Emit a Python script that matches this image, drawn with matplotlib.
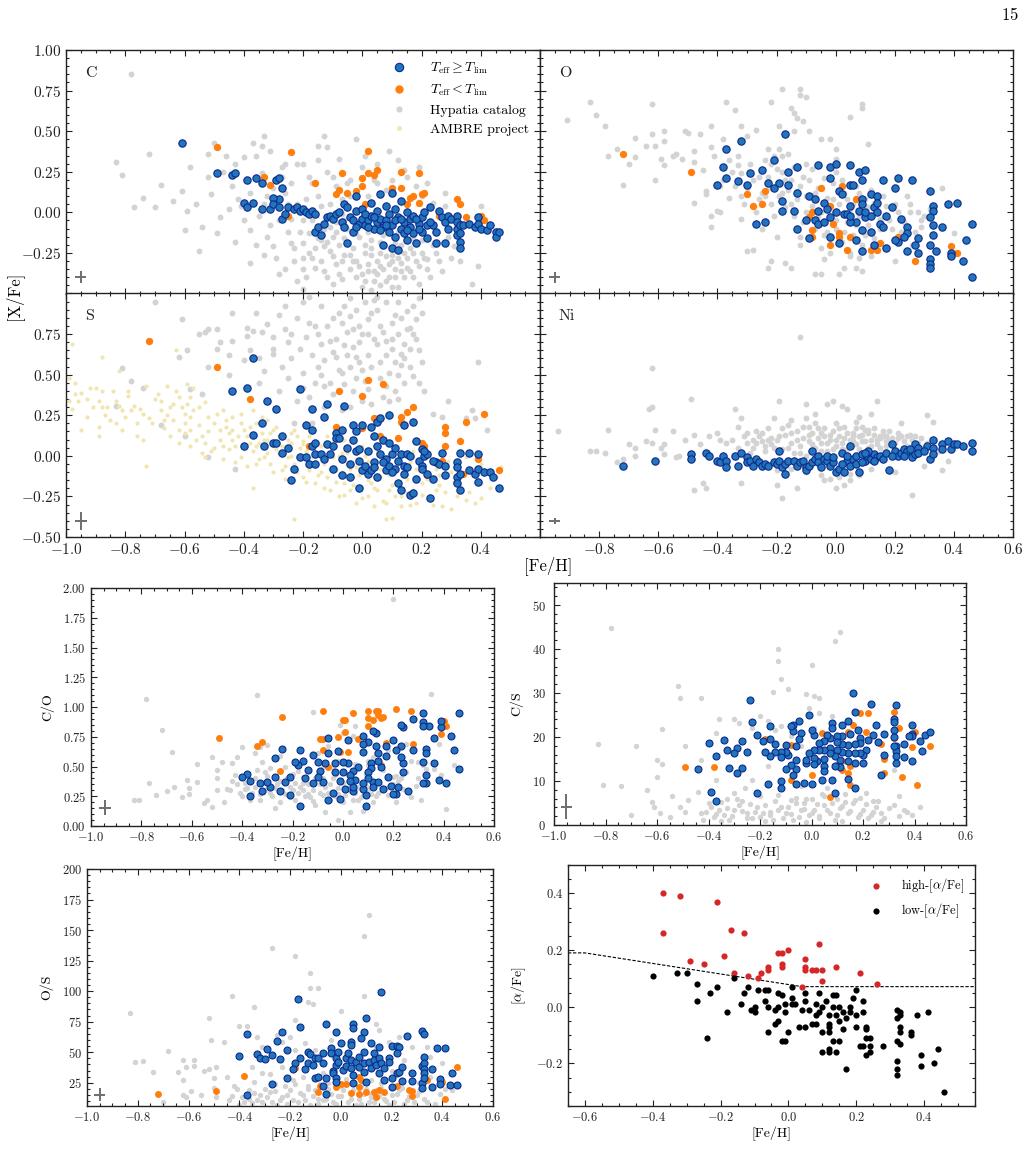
import matplotlib
matplotlib.use("Agg")
import matplotlib.pyplot as plt
from matplotlib.lines import Line2D
from matplotlib.ticker import FuncFormatter, MultipleLocator, FixedLocator

plt.rcParams["font.family"] = "serif"
plt.rcParams["font.serif"] = ["cmr10", "DejaVu Serif"]
plt.rcParams["mathtext.fontset"] = "cm"
plt.rcParams["axes.unicode_minus"] = True

GREY = "#d3d3d3"
AMBRE_C = "#efe6b2"
ORANGE = "#ff7f0e"
BLUE_FACE = "#2274bb"
BLUE_EDGE = "#0b2a8c"
CROSS = "#6e6e6e"

# ---------------- [C/Fe] ----------------
C_BLUE = [(-0.61,0.43),(-0.49,0.24),(-0.44,0.23),(-0.43,0.24),(-0.39,0.20),(-0.36,0.21),(-0.34,0.18),
          (-0.29,0.20),(-0.28,0.21),(-0.27,0.15),(-0.28,0.08),(-0.40,0.06),(-0.39,0.03),(-0.37,0.06),
          (-0.34,0.02),(-0.31,0.02),(-0.30,0.09),(-0.30,0.05),(-0.28,0.03),(-0.27,-0.04),(-0.26,-0.01),
          (-0.25,0.03),(-0.23,0.02),(-0.22,0.03),(-0.21,0.01),(-0.20,0.02),(-0.19,0.00),(-0.18,-0.01),
          (-0.17,0.01),(-0.16,-0.01),(-0.16,-0.12),(-0.15,-0.09),(-0.14,-0.14),(-0.13,-0.07),(-0.12,-0.03),
          (-0.11,-0.02),(-0.10,-0.04),(-0.09,-0.01),(-0.08,0.00),(-0.07,-0.06),(-0.06,-0.09),(-0.06,0.05),
          (-0.05,0.03),(-0.05,-0.19),(-0.04,-0.03),(-0.03,-0.05),(-0.03,-0.12),(-0.02,0.10),(-0.02,0.01),
          (-0.01,-0.07),(0.00,-0.04),(0.00,0.02),(0.01,-0.08),(0.02,-0.05),(0.03,-0.02),(0.03,0.06),
          (0.04,-0.10),(0.05,-0.06),(0.05,0.01),(0.06,-0.04),(0.06,0.11),(0.07,-0.09),(0.07,-0.20),
          (0.08,-0.05),(0.08,0.04),(0.09,-0.12),(0.09,-0.01),(0.10,-0.08),(0.10,0.12),(0.10,-0.22),
          (0.11,-0.15),(0.11,0.02),(0.12,-0.03),(0.12,-0.23),(0.13,-0.10),(0.13,0.07),(0.14,-0.06),
          (0.14,-0.13),(0.15,0.00),(0.15,-0.17),(0.16,-0.04),(0.16,-0.09),(0.17,-0.02),(0.17,-0.13),
          (0.18,-0.19),(0.19,-0.07),(0.20,-0.12),(0.20,-0.03),(0.21,0.00),(0.22,-0.08),(0.22,-0.16),
          (0.23,0.03),(0.24,-0.08),(0.25,-0.12),(0.25,-0.19),(0.26,0.01),(0.27,-0.03),(0.28,-0.06),
          (0.28,-0.19),(0.29,-0.02),(0.29,-0.10),(0.30,-0.04),(0.32,-0.02),(0.32,-0.06),(0.32,-0.10),
          (0.32,-0.14),(0.33,-0.18),(0.33,-0.22),(0.33,-0.08),(0.33,-0.13),(0.34,-0.08),(0.36,-0.07),
          (0.38,-0.09),(0.39,-0.03),(0.39,-0.07),(0.40,-0.10),(0.42,-0.11),(0.43,-0.08),(0.45,-0.12),
          (0.45,-0.15),(0.46,-0.12),(0.02,-0.09),(0.04,-0.03),(0.06,-0.11),(0.08,-0.08),(0.11,-0.05),
          (0.13,-0.04),(0.15,-0.11),(0.18,-0.04),(0.19,-0.10),(0.23,-0.06),(-0.02,-0.09),(0.01,-0.01)]
C_ORANGE = [(-0.49,0.40),(-0.33,0.22),(-0.31,0.17),(-0.24,0.37),(-0.16,0.18),(-0.09,0.11),(-0.08,0.14),
            (-0.07,0.24),(-0.05,0.12),(-0.02,0.13),(0.00,0.21),(0.01,0.05),(0.02,0.38),(0.02,0.24),
            (0.04,0.23),(0.05,0.26),(0.00,0.16),(0.10,0.15),(0.13,0.25),(0.13,0.15),(0.15,0.05),
            (0.16,0.09),(0.17,0.10),(0.19,0.24),(0.19,0.06),(0.20,0.11),(0.21,0.12),(0.26,-0.02),
            (0.28,-0.05),(0.32,0.08),(0.33,0.05),(0.35,-0.03),(0.40,-0.02),(0.41,-0.05),(-0.25,-0.02)]
C_HYP = [(-0.78,0.85),(-0.83,0.31),(-0.81,0.23),(-0.72,0.36),(-0.68,0.17),(-0.74,0.09),(-0.77,0.03),
         (-0.70,0.03),(-0.64,0.07),(-0.61,0.13),(-0.58,0.28),(-0.59,0.01),(-0.60,-0.11),(-0.55,-0.24),
         (-0.54,-0.09),(-0.52,0.36),(-0.50,0.43),(-0.52,0.22),(-0.51,0.11),(-0.49,-0.13),(-0.46,0.35),
         (-0.44,0.16),(-0.43,-0.18),(-0.41,0.04),(-0.40,0.34),(-0.38,-0.11),(-0.37,0.43),(-0.38,-0.31),
         (-0.34,0.41),(-0.33,0.47),(-0.34,0.24),(-0.32,0.10),(-0.31,-0.08),(-0.30,-0.21),(-0.28,-0.38),
         (-0.27,0.28),(-0.26,0.12),(-0.24,-0.19),(-0.23,-0.30),(-0.22,0.30),(-0.20,-0.05),(-0.20,-0.19),
         (-0.20,-0.47),(-0.18,-0.13),(-0.17,0.18),(-0.16,-0.34),(-0.15,0.41),(-0.14,0.04),(-0.13,0.47),
         (-0.13,-0.21),(-0.12,0.25),(-0.11,-0.09),(-0.10,-0.27),(-0.09,0.16),(-0.08,-0.38),(-0.07,-0.01),
         (-0.07,-0.41),(-0.05,-0.19),(-0.04,0.20),(-0.03,-0.30),(-0.02,0.45),(-0.02,-0.13),(0.00,-0.46),
         (0.01,-0.25),(0.01,0.35),(0.02,0.10),(0.03,-0.17),(0.04,-0.36),(0.05,0.18),(0.06,-0.25),
         (0.08,-0.09),(0.09,0.38),(0.10,-0.46),(0.11,-0.19),(0.13,-0.31),(0.14,-0.09),(0.16,-0.36),
         (0.17,-0.25),(0.19,0.28),(0.20,-0.17),(0.22,0.18),(0.22,-0.29),(0.24,-0.09),(0.28,0.04),
         (0.29,-0.15),(0.31,-0.21),(0.35,-0.50),(0.37,-0.44),(0.39,-0.33),(0.40,0.04),
         (-0.28,-0.05),(-0.25,-0.12),(-0.23,-0.22),(-0.22,0.05),(-0.20,-0.28),(-0.19,0.08),(-0.18,-0.25),
         (-0.17,-0.05),(-0.16,-0.22),(-0.15,0.10),(-0.14,-0.30),(-0.13,-0.10),(-0.12,-0.18),(-0.11,0.05),
         (-0.10,-0.15),(-0.09,-0.32),(-0.08,-0.20),(-0.07,0.08),(-0.06,-0.26),(-0.05,-0.10),(-0.04,-0.35),
         (-0.03,-0.22),(-0.02,-0.30),(-0.01,-0.15),(0.00,-0.38),(0.01,-0.20),(0.02,-0.32),(0.03,-0.26),
         (0.04,-0.42),(0.05,-0.30),(0.06,-0.18),(0.07,-0.35),(0.08,-0.27),(0.09,-0.40),(0.10,-0.30),
         (0.11,-0.35),(0.12,-0.28),(0.13,-0.20),(0.14,-0.40),(0.15,-0.28),(0.16,-0.22),(0.18,-0.30),
         (0.20,-0.25),(0.22,-0.35),(0.24,-0.20),(0.26,-0.30),(-0.35,-0.02),(-0.33,0.05),(-0.38,0.12),
         (-0.42,0.08),(-0.45,0.02),(-0.30,0.15),(-0.27,0.22),(-0.24,0.18),(-0.10,0.22),(-0.05,0.18),
         (0.00,0.28),(0.05,0.30),(0.10,0.20),(0.15,0.22),(0.20,0.10),(-0.20,0.30),(-0.15,0.32),
         (-0.08,0.33),(0.12,0.32),(0.06,-0.45),(-0.12,-0.40),(-0.20,-0.35),(-0.06,-0.05),(0.02,-0.12),
         (-0.14,-0.17),(0.07,-0.14),(0.12,-0.12),(-0.09,-0.12),(0.17,-0.16),(-0.25,0.05)]
C_HYP_EXTRA = [(-0.32,-0.15),(-0.29,-0.28),(-0.26,-0.35),(-0.24,-0.04),(-0.21,-0.12),(-0.19,-0.40),
               (-0.17,-0.28),(-0.15,-0.16),(-0.13,-0.36),(-0.11,-0.24),(-0.09,-0.06),(-0.07,-0.30),
               (-0.06,-0.16),(-0.04,-0.26),(-0.02,-0.40),(-0.01,-0.33),(0.01,-0.42),(0.02,-0.36),
               (0.03,-0.22),(0.05,-0.38),(0.06,-0.33),(0.08,-0.42),(0.09,-0.32),(0.10,-0.26),(0.11,-0.40),
               (0.13,-0.36),(0.14,-0.25),(0.15,-0.34),(0.17,-0.40),(0.19,-0.33),(0.21,-0.28),(0.23,-0.40),
               (0.25,-0.25),(0.27,-0.36),(0.30,-0.28),(0.33,-0.30),(-0.36,-0.20),(-0.40,-0.05),
               (-0.48,-0.03),(-0.56,0.05),(-0.47,0.25),(-0.43,0.30),(-0.36,0.35),(-0.31,0.38),
               (-0.12,0.40),(-0.04,0.10),(0.04,0.20),(0.08,0.14),(0.14,0.26),(0.18,0.16),(-0.18,0.22),
               (-0.26,0.30),(0.28,0.12),(0.24,0.06),(-0.22,-0.42),(-0.10,-0.44),(0.03,-0.48),
               (0.12,-0.46),(0.19,-0.44),(-0.33,-0.26)]

# ---------------- [O/Fe] ----------------
O_BLUE = [(-0.17,0.48),(-0.32,0.44),(-0.37,0.39),(-0.38,0.28),(-0.37,0.21),(-0.40,0.17),(-0.33,0.19),
          (-0.29,0.24),(-0.30,0.17),(-0.25,0.26),(-0.21,0.32),(-0.23,0.18),(-0.21,0.15),(-0.19,0.18),
          (-0.16,0.25),(-0.16,0.17),(-0.13,0.28),(-0.13,0.12),(-0.18,0.07),(-0.18,0.01),(-0.14,0.01),
          (-0.27,-0.07),(-0.24,-0.06),(-0.13,-0.10),(-0.10,-0.05),(-0.09,0.10),(-0.07,0.08),(-0.06,0.29),
          (-0.02,0.28),(0.00,0.30),(0.05,0.29),(0.08,0.25),(0.10,0.26),(0.09,0.20),(0.05,0.17),(0.06,0.17),
          (0.01,0.13),(-0.02,0.21),(-0.04,0.06),(-0.03,0.02),(-0.06,0.01),(-0.07,-0.05),(-0.02,-0.03),
          (0.00,0.00),(0.03,-0.01),(0.05,0.04),(0.02,0.11),(0.09,0.08),(0.09,0.05),(0.12,0.11),(0.14,0.10),
          (0.13,0.03),(0.14,0.06),(0.10,-0.03),(0.12,-0.02),(0.07,-0.06),(0.05,-0.06),(0.09,-0.11),
          (0.12,-0.12),(0.15,-0.07),(0.16,-0.09),(0.09,-0.24),(0.13,-0.20),(0.17,-0.22),(0.16,0.20),
          (0.21,0.21),(0.26,0.20),(0.20,0.15),(0.19,0.03),(0.22,-0.04),(0.24,-0.09),(0.24,-0.13),
          (0.23,-0.15),(0.21,-0.18),(0.20,-0.17),(0.24,-0.24),(0.27,-0.20),(0.28,-0.16),(0.28,-0.25),
          (0.32,0.13),(0.33,0.04),(0.33,0.01),(0.32,-0.03),(0.33,-0.08),(0.33,-0.14),(0.32,-0.20),
          (0.32,-0.29),(0.32,-0.32),(0.32,-0.34),(0.34,-0.24),(0.36,-0.09),(0.38,0.05),(0.41,0.06),
          (0.39,-0.25),(0.39,-0.27),(0.43,-0.30),(0.44,-0.17),(0.46,-0.07),(0.46,-0.40),(-0.02,-0.15),
          (0.01,-0.19),(0.07,-0.17),(-0.09,-0.16),(-0.06,-0.07),(-0.04,-0.06),(0.04,-0.01),(0.05,-0.02),
          (0.08,0.01),(0.10,0.00),(0.14,0.00),(0.17,-0.02)]
O_ORANGE = [(-0.72,0.36),(-0.49,0.25),(-0.30,0.11),(-0.28,0.04),(-0.25,0.05),(-0.24,0.13),(-0.05,0.15),
            (0.02,0.16),(0.07,0.08),(-0.08,0.00),(-0.09,-0.03),(-0.08,-0.11),(-0.08,-0.15),(-0.02,0.04),
            (-0.02,-0.20),(-0.01,-0.07),(0.01,-0.13),(0.01,-0.15),(0.04,-0.23),(0.05,-0.15),(0.09,-0.11),
            (0.12,-0.23),(0.14,-0.23),(0.15,-0.19),(0.21,-0.15),(0.27,-0.30),(0.39,-0.21),(0.41,-0.25)]
O_HYP = [(-0.91,0.57),(-0.83,0.68),(-0.81,0.60),(-0.78,0.53),(-0.77,0.35),(-0.74,0.39),(-0.72,0.17),
         (-0.70,0.30),(-0.68,0.46),(-0.68,0.34),(-0.64,0.41),(-0.62,0.67),(-0.62,0.48),(-0.61,0.41),
         (-0.59,0.33),(-0.58,0.50),(-0.58,0.44),(-0.58,0.29),(-0.61,0.20),(-0.55,0.35),(-0.54,0.36),
         (-0.52,0.33),(-0.51,0.50),(-0.50,0.49),(-0.48,0.38),(-0.48,0.31),(-0.48,0.06),(-0.46,0.48),
         (-0.45,0.26),(-0.44,0.11),(-0.44,0.13),(-0.42,0.53),(-0.42,0.40),(-0.41,0.35),(-0.42,-0.02),
         (-0.42,-0.09),(-0.40,0.01),(-0.39,0.00),(-0.39,0.16),(-0.37,0.68),(-0.34,0.63),(-0.38,0.45),
         (-0.36,0.32),(-0.33,0.29),(-0.32,0.24),(-0.34,0.16),(-0.36,0.09),(-0.32,0.10),(-0.32,-0.04),
         (-0.30,0.47),(-0.27,0.51),(-0.32,0.53),(-0.30,-0.24),(-0.28,-0.23),(-0.22,0.68),(-0.19,0.53),
         (-0.18,0.76),(-0.15,0.64),(-0.14,0.61),(-0.13,0.58),(-0.12,0.76),(-0.12,0.72),(-0.10,0.71),
         (-0.11,0.56),(-0.14,0.50),(-0.09,0.50),(-0.05,0.45),(-0.02,0.45),(0.00,0.39),(0.00,0.33),
         (0.05,0.59),(0.09,0.67),(0.09,0.64),(0.11,0.42),(-0.23,0.39),(-0.24,0.32),(-0.21,0.35),
         (-0.19,0.39),(-0.16,0.36),(-0.22,-0.30),(-0.23,-0.34),(-0.17,-0.31),(-0.15,-0.34),(-0.07,-0.38),
         (-0.05,-0.38),(-0.04,-0.29),(0.01,-0.38),(0.03,-0.34),(0.05,-0.27),(0.07,-0.34),(0.09,-0.36),
         (0.20,-0.30),(0.28,-0.25),(0.36,0.15),(0.40,-0.13),(0.28,0.00),(0.25,0.00),(0.29,-0.09),
         (-0.30,0.15),(-0.28,0.20),(-0.26,0.08),(-0.25,0.12),(-0.23,0.22),(-0.22,0.05),(-0.20,0.18),
         (-0.19,0.10),(-0.18,0.25),(-0.17,0.03),(-0.16,0.14),(-0.15,0.20),(-0.14,-0.02),(-0.13,0.08),
         (-0.12,0.16),(-0.11,-0.06),(-0.10,0.10),(-0.09,0.20),(-0.08,0.04),(-0.07,-0.10),(-0.06,0.15),
         (-0.05,0.00),(-0.04,-0.14),(-0.03,0.09),(-0.02,-0.04),(-0.01,0.18),(0.00,-0.10),(0.01,0.05),
         (0.02,-0.18),(0.03,0.12),(0.04,-0.06),(0.05,0.02),(0.06,-0.14),(0.07,0.16),(0.08,-0.02),
         (0.09,-0.20),(0.10,0.08),(0.11,-0.08),(0.12,0.14),(0.13,-0.16),(0.14,0.03),(0.15,-0.10),
         (0.16,0.10),(0.18,-0.05),(0.20,0.05),(0.22,-0.12),(0.24,0.10),(0.26,-0.20),(0.30,-0.02),
         (-0.22,0.30),(-0.18,0.35),(-0.10,0.30),(0.00,0.25),(-0.25,-0.10),(-0.20,-0.15),(-0.12,-0.20),
         (-0.05,-0.22),(0.05,-0.25),(0.12,-0.27)]
O_HYP_EXTRA = [(-0.38,0.20),(-0.35,0.25),(-0.33,0.35),(-0.31,0.05),(-0.29,0.30),(-0.27,0.00),(-0.26,0.22),
               (-0.24,0.10),(-0.22,0.15),(-0.21,-0.02),(-0.20,0.27),(-0.18,0.12),(-0.17,0.20),(-0.15,0.05),
               (-0.14,0.28),(-0.13,0.13),(-0.11,0.22),(-0.10,0.00),(-0.08,0.27),(-0.07,0.12),(-0.06,-0.02),
               (-0.04,0.21),(-0.03,-0.12),(-0.01,0.08),(0.00,-0.05),(0.02,0.20),(0.03,-0.12),(0.04,0.08),
               (0.06,0.05),(0.07,-0.08),(0.08,0.12),(0.10,-0.14),(0.11,0.03),(0.13,0.06),(0.15,-0.04),
               (0.17,0.04),(0.19,-0.10),(0.21,0.00),(0.23,-0.06),(0.25,0.05),(0.27,-0.12),(0.29,-0.05),
               (0.32,0.02),(-0.12,-0.15),(-0.02,-0.25),(0.08,-0.28)]

# ---------------- [S/Fe] ----------------
S_BLUE = [(-0.37,0.60),(-0.44,0.40),(-0.39,0.42),(-0.32,0.34),(-0.29,0.29),(-0.34,0.20),(-0.37,0.13),
          (-0.40,0.06),(-0.33,0.06),(-0.30,0.08),(-0.29,0.08),(-0.27,0.12),(-0.27,0.02),(-0.25,0.05),
          (-0.24,-0.15),(-0.23,-0.08),(-0.21,0.41),(-0.21,-0.01),(-0.19,-0.01),(-0.18,-0.05),(-0.16,-0.05),
          (-0.16,0.01),(-0.19,0.19),(-0.17,0.29),(-0.17,0.16),(-0.17,0.06),(-0.16,0.08),(-0.13,0.24),
          (-0.12,0.32),(-0.14,0.01),(-0.13,-0.02),(-0.12,0.07),(-0.11,0.01),(-0.10,-0.08),(-0.10,0.06),
          (-0.09,0.14),(-0.09,0.11),(-0.08,0.11),(-0.07,0.16),(-0.07,-0.12),(-0.07,-0.02),(-0.06,0.31),
          (-0.05,0.05),(-0.04,-0.13),(-0.04,-0.05),(-0.03,0.19),(-0.03,0.10),(-0.02,0.03),(-0.02,0.15),
          (-0.01,-0.20),(-0.01,-0.03),(0.00,0.19),(0.00,-0.09),(0.01,-0.06),(0.02,0.03),(0.02,-0.11),
          (0.03,0.18),(0.03,-0.09),(0.04,0.12),(0.04,-0.04),(0.05,0.21),(0.05,0.06),(0.05,-0.13),
          (0.06,0.23),(0.06,0.01),(0.07,0.10),(0.08,-0.02),(0.08,-0.09),(0.09,0.25),(0.09,0.08),
          (0.09,-0.06),(0.10,0.01),(0.11,-0.08),(0.11,0.05),(0.12,-0.17),(0.13,0.01),(0.13,-0.21),
          (0.14,0.19),(0.14,-0.06),(0.14,-0.11),(0.15,0.01),(0.16,0.00),(0.16,-0.24),(0.17,0.21),
          (0.17,-0.23),(0.18,0.09),(0.18,-0.14),(0.19,-0.03),(0.20,0.04),(0.20,-0.06),(0.21,0.00),
          (0.22,0.01),(0.22,-0.11),(0.23,-0.26),(0.24,-0.14),(0.25,-0.04),(0.26,-0.05),(0.27,0.02),
          (0.28,-0.06),(0.28,-0.12),(0.32,-0.04),(0.32,-0.07),(0.32,-0.13),(0.32,-0.17),(0.33,0.02),
          (0.33,-0.11),(0.33,-0.21),(0.36,0.02),(0.36,-0.09),(0.38,-0.11),(0.39,0.01),(0.39,-0.08),
          (0.39,-0.16),(0.41,-0.10),(0.43,-0.10),(0.44,-0.13),(0.46,-0.20),(0.21,0.03),(0.24,-0.03),
          (0.20,-0.08),(0.07,-0.04),(0.10,-0.10),(0.12,-0.03),(0.15,-0.07),(0.04,-0.07),(-0.01,0.04)]
S_ORANGE = [(-0.72,0.71),(-0.49,0.55),(-0.38,0.35),(-0.08,0.40),(0.00,0.37),(0.02,0.47),(0.07,0.44),
            (-0.09,0.18),(0.00,0.17),(0.04,0.23),(0.06,0.12),(0.12,0.11),(0.13,0.24),(0.13,0.21),
            (0.15,0.27),(0.17,0.30),(0.20,0.08),(0.21,0.06),(0.28,0.18),(0.28,0.14),(0.28,0.06),
            (0.33,0.09),(0.35,0.21),(0.41,0.26),(0.39,-0.02),(0.46,-0.09),(0.34,-0.11),(-0.18,0.06),
            (0.22,-0.12),(0.27,-0.03)]
S_HYP = [(-0.70,0.95),(-0.61,0.84),(-0.62,0.61),(-0.59,0.65),(-0.81,0.54),(-0.78,0.46),(-0.74,0.42),
         (-0.83,0.31),(-0.58,0.41),(-0.54,0.38),(-0.52,-0.01),(-0.60,0.12),(-0.68,0.19),(-0.44,0.88),
         (-0.44,0.71),(-0.39,0.79),(-0.40,0.59),(-0.43,-0.08),(-0.52,0.78),(-0.49,0.78),(-0.55,0.75),
         (-0.53,0.76),(-0.49,0.66),(-0.39,0.74),(-0.37,0.77),(-0.34,0.76),(-0.32,0.81),(-0.28,0.87),
         (-0.30,0.73),(-0.30,0.66),(-0.30,0.63),(-0.26,0.78),(-0.25,0.70),(-0.24,0.60),(-0.20,0.95),
         (-0.18,0.98),(-0.18,0.82),(-0.19,0.73),(-0.21,0.66),(-0.20,0.51),(-0.22,0.34),(-0.23,0.20),
         (-0.16,0.80),(-0.14,0.69),(-0.13,0.59),(-0.11,0.71),(-0.09,0.61),(-0.08,0.53),(-0.08,0.88),
         (-0.07,0.82),(-0.04,0.86),(-0.05,0.76),(-0.03,0.67),(-0.02,0.61),(0.00,0.53),(0.01,0.46),
         (-0.03,0.40),(-0.06,0.44),(0.01,0.95),(0.04,0.96),(0.03,0.88),(0.06,0.80),(0.02,0.75),
         (-0.01,0.80),(0.08,0.71),(0.10,0.66),(0.12,0.75),(0.14,0.69),(0.16,0.79),(0.17,0.92),
         (0.15,0.89),(0.11,0.87),(0.17,0.75),(0.18,0.84),(0.13,0.56),(0.09,0.51),(0.06,0.58),
         (0.03,0.55),(-0.04,0.55),(-0.07,0.51),(0.17,0.49),(0.21,0.40),(0.11,0.40),(0.09,0.34),
         (0.03,0.32),(0.00,0.34),(-0.04,0.30),(-0.07,0.28),(-0.13,0.43),(-0.18,0.36),(-0.13,0.30),
         (-0.17,0.20),(0.39,0.58),(0.37,0.28),(0.35,0.23),(0.38,0.23),(0.42,0.16),(0.27,0.24),
         (0.29,0.34),(0.24,0.26),(-0.10,0.64),(0.05,0.69),(0.14,0.60),(-0.15,0.55),(0.08,0.62),
         (-0.01,0.70),(0.12,0.50),(0.19,0.65),(-0.27,0.55),(-0.45,0.50),(-0.35,0.45)]
S_HYP_EXTRA = [(-0.10,0.85),(-0.06,0.92),(-0.02,0.90),(0.02,0.84),(0.05,0.90),(0.08,0.95),(0.10,0.82),
               (0.13,0.85),(0.15,0.78),(0.18,0.72),(0.16,0.66),(0.13,0.63),(0.10,0.72),(0.07,0.76),
               (0.04,0.72),(0.00,0.75),(-0.03,0.78),(-0.06,0.68),(-0.09,0.72),(-0.12,0.80),(-0.15,0.75),
               (-0.17,0.62),(-0.14,0.50),(-0.11,0.45),(-0.08,0.40),(-0.05,0.62),(-0.01,0.58),(0.02,0.62),
               (0.06,0.48),(0.08,0.43),(0.11,0.58),(0.14,0.45),(0.16,0.55),(0.19,0.45),(0.20,0.58),
               (0.12,0.35),(0.07,0.36),(0.02,0.41),(-0.02,0.48),(-0.10,0.38),(-0.16,0.45),(-0.20,0.42),
               (-0.25,0.48),(-0.28,0.40),(-0.33,0.52),(-0.38,0.65),(-0.35,0.60),(-0.24,0.75),(-0.22,0.85),
               (-0.26,0.92),(-0.14,0.92),(0.12,0.95),(0.19,0.97),(0.20,0.88),(-0.04,0.97),(0.05,0.98),
               (-0.48,0.70),(-0.45,0.62),(-0.52,0.55),(-0.36,0.88)]
S_AMBRE = [(-0.99,0.48),(-0.98,0.69),(-0.98,0.29),(-0.97,0.38),(-0.95,0.39),(-0.92,0.42),(-0.96,0.34),
           (-0.89,0.34),(-0.88,0.40),(-0.88,0.30),(-0.89,0.18),(-0.89,0.12),(-0.88,0.61),(-0.86,0.30),
           (-0.83,0.34),(-0.82,0.31),(-0.81,0.28),(-0.80,0.24),(-0.85,0.22),(-0.83,0.20),(-0.81,0.16),
           (-0.82,0.52),(-0.79,0.37),(-0.77,0.31),(-0.75,0.29),(-0.74,0.26),(-0.72,0.23),(-0.76,0.12),
           (-0.74,0.10),(-0.73,-0.06),(-0.69,0.38),(-0.68,0.34),(-0.66,0.43),(-0.64,0.32),(-0.62,0.36),
           (-0.61,0.30),(-0.59,0.32),(-0.68,0.28),(-0.66,0.25),(-0.64,0.22),(-0.62,0.16),(-0.60,0.20),
           (-0.58,0.24),(-0.57,0.28),(-0.67,0.17),(-0.65,0.12),(-0.62,0.08),(-0.60,0.14),(-0.58,0.16),
           (-0.55,0.19),(-0.63,0.65),(-0.59,0.44),(-0.54,0.12),(-0.53,0.08),(-0.51,0.03),(-0.52,0.24),
           (-0.50,0.20),(-0.48,0.16),(-0.47,0.28),(-0.46,0.22),(-0.45,0.14),(-0.44,0.10),(-0.43,0.06),
           (-0.41,0.20),(-0.40,0.16),(-0.39,0.12),(-0.38,0.08),(-0.37,0.03),(-0.36,-0.05),(-0.37,-0.20),
           (-0.34,0.14),(-0.33,-0.01),(-0.32,0.10),(-0.31,-0.05),(-0.30,0.06),(-0.29,0.18),(-0.27,-0.09),
           (-0.26,0.03),(-0.25,-0.01),(-0.24,0.08),(-0.23,-0.05),(-0.22,0.12),(-0.20,-0.13),(-0.19,0.03),
           (-0.18,-0.09),(-0.17,-0.01),(-0.16,-0.17),(-0.15,0.08),(-0.13,-0.05),(-0.12,-0.13),(-0.11,-0.21),
           (-0.10,-0.01),(-0.09,-0.09),(-0.08,-0.25),(-0.06,-0.17),(-0.05,-0.05),(-0.04,-0.21),(-0.03,-0.13),
           (-0.02,-0.29),(-0.01,-0.21),(0.01,-0.09),(0.02,-0.25),(0.03,-0.17),(0.04,-0.31),(0.05,-0.21),
           (0.06,-0.13),(0.08,-0.29),(0.09,-0.21),(0.10,-0.38),(0.11,-0.25),(0.12,-0.17),(0.13,-0.31),
           (0.15,-0.23),(0.17,-0.21),(0.18,-0.29),(0.20,-0.17),(0.23,-0.25),(0.25,-0.21),(0.27,-0.31),
           (0.30,-0.33),(0.32,-0.25),(0.35,-0.27),(0.38,-0.29),(0.40,-0.17),(0.45,-0.13),(0.47,-0.07),
           (-0.23,-0.39),(0.08,-0.39),(-0.36,0.20),(-0.30,0.16),(-0.24,0.14),(-0.18,0.16),(-0.12,0.12),
           (-0.06,0.10),(0.00,0.06),(0.05,0.03),(0.11,0.06),(0.17,0.03),(0.23,-0.01),(0.29,-0.03),
           (0.35,-0.01),(0.40,-0.05),(-0.41,-0.01),(-0.47,0.06),(-0.53,-0.01),(-0.58,0.06),(-0.44,0.24),
           (-0.37,0.28),(-0.32,0.22),(-0.58,0.36),(-0.73,0.43),(-0.79,0.40),(-0.93,0.24),(-0.95,0.16),
           (-0.99,0.34),(-0.28,0.02),(-0.21,0.05),(-0.14,-0.10),(-0.07,0.02),(0.02,-0.03),(0.08,-0.06),
           (0.14,-0.11),(0.19,-0.09),(0.26,-0.12),(0.31,-0.16),(0.37,-0.12),(-0.35,0.08),(-0.26,-0.06),
           (-0.20,0.09),(-0.10,0.04),(-0.02,-0.07),(0.06,-0.01),(0.16,-0.04),(0.25,-0.08),(0.42,-0.09)]
S_AMBRE_EXTRA = [(-0.56,0.10),(-0.55,0.30),(-0.54,0.02),(-0.52,0.15),(-0.50,0.05),(-0.49,0.26),(-0.48,0.10),
                 (-0.47,-0.02),(-0.46,0.18),(-0.45,0.04),(-0.44,0.16),(-0.43,-0.04),(-0.42,0.12),(-0.41,0.26),
                 (-0.40,0.04),(-0.39,-0.06),(-0.38,0.18),(-0.37,0.12),(-0.36,0.06),(-0.35,-0.02),(-0.34,0.24),
                 (-0.33,0.10),(-0.32,0.02),(-0.31,0.14),(-0.30,-0.10),(-0.29,0.04),(-0.28,0.12),(-0.27,0.06),
                 (-0.26,-0.14),(-0.25,0.10),(-0.24,0.00),(-0.23,0.16),(-0.22,-0.10),(-0.21,0.00),(-0.20,0.07),
                 (-0.19,-0.16),(-0.18,0.12),(-0.17,-0.06),(-0.16,0.02),(-0.15,-0.12),(-0.14,0.06),(-0.13,-0.20),
                 (-0.12,0.00),(-0.11,-0.08),(-0.10,0.09),(-0.09,-0.16),(-0.08,0.00),(-0.07,-0.10),(-0.06,-0.24),
                 (-0.05,0.02),(-0.04,-0.08),(-0.03,-0.18),(-0.02,-0.02),(-0.01,-0.12),(0.00,-0.26),(0.01,0.00),
                 (0.02,-0.15),(0.03,-0.06),(0.04,-0.20),(0.06,-0.08),(0.07,-0.28),(0.09,-0.12),(0.10,-0.18),
                 (0.12,-0.05),(0.13,-0.25),(0.15,-0.14),(0.16,-0.30),(0.18,-0.08),(0.20,-0.24),(0.22,-0.14),
                 (0.24,-0.30),(0.26,-0.18),(0.28,-0.22),(0.30,-0.10),(0.33,-0.18),(0.36,-0.22),(0.40,-0.26),
                 (0.43,-0.20),(-0.70,0.35),(-0.71,0.20),(-0.76,0.20),(-0.84,0.40),(-0.87,0.25),(-0.91,0.30),
                 (-0.93,0.35),(-0.97,0.45),(-0.90,0.42),(-0.78,0.28),(-0.65,0.30),(-0.63,0.40),(-0.57,0.42),
                 (-0.53,0.33),(-0.60,0.26),(-0.67,0.22)]

# ---------------- [Ni/Fe] ----------------
NI_BLUE = [(-0.72,-0.06),(-0.61,-0.03),(-0.49,0.01),(-0.49,-0.02),(-0.44,0.02),(-0.43,0.00),(-0.40,-0.03),
           (-0.39,-0.04),(-0.38,0.00),(-0.37,-0.03),(-0.37,-0.07),(-0.34,0.00),(-0.33,-0.06),(-0.32,0.02),
           (-0.30,-0.01),(-0.30,-0.04),(-0.29,-0.03),(-0.28,-0.06),(-0.27,-0.02),(-0.26,-0.04),(-0.25,-0.06),
           (-0.24,-0.05),(-0.23,-0.06),(-0.21,-0.04),(-0.20,-0.05),(-0.19,0.03),(-0.19,-0.03),(-0.18,-0.07),
           (-0.17,-0.11),(-0.17,-0.05),(-0.16,-0.03),(-0.14,-0.03),(-0.13,-0.06),(-0.12,-0.04),(-0.11,-0.03),
           (-0.10,-0.07),(-0.10,-0.09),(-0.09,-0.06),(-0.08,0.03),(-0.08,-0.04),(-0.07,-0.02),(-0.06,0.00),
           (-0.06,-0.04),(-0.05,-0.07),(-0.04,-0.02),(-0.03,-0.03),(-0.03,0.00),(-0.02,-0.06),(-0.01,-0.04),
           (0.00,-0.10),(0.01,-0.08),(0.02,0.02),(0.03,-0.10),(0.04,-0.03),(0.05,0.06),(0.05,-0.06),
           (0.06,-0.02),(0.07,0.00),(0.08,-0.10),(0.09,0.01),(0.10,-0.03),(0.11,0.00),(0.12,-0.02),
           (0.13,0.01),(0.14,-0.01),(0.15,0.00),(0.16,-0.02),(0.18,-0.09),(0.19,0.07),(0.20,0.03),
           (0.21,0.00),(0.22,0.02),(0.23,0.04),(0.24,0.03),(0.26,-0.01),(0.27,0.01),(0.27,0.07),
           (0.28,0.05),(0.31,0.06),(0.32,-0.02),(0.33,0.10),(0.33,0.05),(0.33,0.01),(0.36,0.07),
           (0.36,0.04),(0.38,0.09),(0.39,0.04),(0.40,0.07),(0.41,0.07),(0.43,0.06),(0.46,0.08),(0.46,0.03),
           (0.02,-0.05),(0.04,0.00),(0.07,-0.05),(0.09,-0.04),(0.11,0.03),(0.13,-0.03),(0.17,0.02),
           (0.19,0.00),(0.23,0.00),(0.25,0.04),(0.28,0.02),(0.30,0.03),(-0.01,-0.01),(0.10,0.02)]
NI_HYP = [(-0.94,0.15),(-0.83,0.03),(-0.81,0.03),(-0.78,0.02),(-0.77,0.16),(-0.74,-0.04),(-0.72,-0.02),
          (-0.70,0.07),(-0.68,0.05),(-0.68,0.00),(-0.64,0.09),(-0.63,0.29),(-0.62,0.30),(-0.62,0.54),
          (-0.61,0.16),(-0.62,0.08),(-0.59,0.05),(-0.58,0.07),(-0.58,0.01),(-0.55,0.15),(-0.54,-0.01),
          (-0.53,0.00),(-0.51,0.10),(-0.49,0.35),(-0.48,0.13),(-0.48,-0.21),(-0.46,0.07),(-0.45,-0.17),
          (-0.44,-0.20),(-0.43,0.12),(-0.40,0.14),(-0.39,0.10),(-0.37,0.08),(-0.34,0.29),(-0.33,0.18),
          (-0.32,0.23),(-0.32,-0.17),(-0.30,0.14),(-0.28,0.10),(-0.27,0.15),(-0.25,0.09),(-0.24,0.06),
          (-0.22,0.11),(-0.21,0.23),(-0.20,-0.18),(-0.19,0.34),(-0.18,-0.26),(-0.15,0.22),(-0.13,-0.20),
          (-0.12,0.73),(-0.10,0.32),(-0.10,0.23),(-0.09,0.18),(-0.07,0.26),(-0.05,0.14),(-0.04,-0.15),
          (-0.03,0.32),(-0.01,0.34),(0.00,-0.20),(0.01,-0.13),(0.02,0.31),(0.03,-0.18),(0.04,0.29),
          (0.05,-0.15),(0.06,0.12),(0.08,0.24),(0.09,0.18),(0.11,0.16),(0.12,0.26),(0.14,0.34),
          (0.15,0.12),(0.17,0.12),(0.21,0.11),(0.22,0.20),(0.24,0.12),(0.26,-0.24),(0.27,0.12),
          (0.31,0.25),(0.33,0.21),(0.36,-0.09),
          (-0.35,0.10),(-0.30,0.08),(-0.28,0.05),(-0.26,0.12),(-0.24,0.03),(-0.22,0.07),(-0.20,0.10),
          (-0.18,0.04),(-0.17,0.13),(-0.15,0.08),(-0.14,0.02),(-0.13,0.15),(-0.12,0.06),(-0.11,0.11),
          (-0.10,0.00),(-0.09,0.09),(-0.08,0.14),(-0.07,0.05),(-0.06,0.17),(-0.05,0.08),(-0.04,0.12),
          (-0.03,0.03),(-0.02,0.10),(-0.01,0.15),(0.00,0.06),(0.01,0.12),(0.02,0.08),(0.03,0.18),
          (0.04,0.04),(0.05,0.10),(0.06,0.14),(0.07,0.07),(0.08,0.12),(0.09,0.09),(0.10,0.16),
          (0.11,0.05),(0.12,0.10),(0.13,0.13),(0.14,0.07),(0.15,0.11),(0.16,0.15),(0.17,0.06),
          (0.18,0.10),(0.20,0.08),(0.22,0.12),(0.24,0.06),(0.26,0.10),(0.28,0.08),(0.30,0.05),
          (-0.25,-0.07),(-0.20,-0.09),(-0.10,-0.10),(-0.05,-0.12),(0.05,-0.11),(0.12,-0.08),
          (0.20,-0.10),(0.30,-0.06),(0.38,-0.03),(-0.16,0.19),(0.00,0.20),(0.07,0.21),(-0.23,0.17)]
NI_HYP_EXTRA = [(-0.33,0.05),(-0.31,0.12),(-0.29,0.02),(-0.27,0.08),(-0.25,0.14),(-0.23,0.10),(-0.21,0.05),
                (-0.19,0.12),(-0.18,0.17),(-0.16,0.05),(-0.15,0.14),(-0.13,0.10),(-0.12,0.02),(-0.11,0.18),
                (-0.09,0.13),(-0.08,0.07),(-0.07,0.20),(-0.06,0.11),(-0.05,0.03),(-0.04,0.17),(-0.03,0.08),
                (-0.02,0.13),(-0.01,0.04),(0.00,0.10),(0.01,0.17),(0.02,0.04),(0.03,0.11),(0.04,0.14),
                (0.05,0.06),(0.06,0.09),(0.07,0.17),(0.08,0.04),(0.09,0.13),(0.10,0.09),(0.11,0.14),
                (0.12,0.06),(0.13,0.17),(0.14,0.10),(0.15,0.05),(0.16,0.12),(0.17,0.09),(0.18,0.15),
                (0.19,0.11),(0.21,0.14),(0.23,0.09),(0.25,0.13),(0.27,0.05),(0.29,0.11),(0.31,0.08),
                (0.35,0.03),(-0.02,-0.14),(0.08,-0.12),(-0.15,-0.08)]

# ---------------- C/O ----------------
CO_BLUE = [(0.46,0.48),(0.46,0.95),(0.44,0.64),(0.43,0.76),(0.41,0.36),(0.39,0.83),(0.39,0.88),(0.38,0.39),
           (0.36,0.53),(0.36,0.74),(0.34,0.84),(0.32,0.95),(0.32,0.87),(0.33,0.65),(0.32,0.54),(0.33,0.43),
           (0.33,0.36),(0.32,0.36),(0.33,0.61),(0.32,0.84),(0.28,0.90),(0.28,0.64),(0.26,0.29),(0.24,0.83),
           (0.23,0.85),(0.24,0.45),(0.24,0.53),(0.23,0.58),(0.23,0.67),(0.22,0.33),(0.21,0.27),(0.20,0.27),
           (0.21,0.64),(0.20,0.72),(0.19,0.34),(0.18,0.41),(0.17,0.59),(0.17,0.67),(0.16,0.31),(0.15,0.50),
           (0.14,0.55),(0.14,0.61),(0.13,0.78),(0.12,0.80),(0.13,0.67),(0.12,0.37),(0.12,0.33),(0.14,0.37),
           (0.11,0.53),(0.11,0.49),(0.10,0.71),(0.10,0.45),(0.10,0.40),(0.09,0.17),(0.09,0.26),(0.08,0.31),
           (0.08,0.36),(0.08,0.69),(0.08,0.76),(0.08,0.62),(0.06,0.50),(0.05,0.39),(0.04,0.29),(0.04,0.33),
           (0.04,0.46),(0.03,0.43),(0.03,0.38),(0.02,0.53),(0.02,0.72),(0.01,0.31),(0.00,0.45),(0.00,0.54),
           (-0.01,0.38),(-0.01,0.23),(-0.02,0.63),(-0.03,0.45),(-0.03,0.53),(-0.04,0.28),(-0.06,0.74),
           (-0.06,0.22),(-0.06,0.61),(-0.07,0.53),(-0.08,0.37),(-0.09,0.46),(-0.10,0.54),(-0.10,0.41),
           (-0.12,0.36),(-0.12,0.60),(-0.14,0.47),(-0.15,0.40),(-0.16,0.55),(-0.17,0.17),(-0.17,0.64),
           (-0.18,0.51),(-0.19,0.54),(-0.21,0.41),(-0.21,0.26),(-0.23,0.37),(-0.25,0.29),(-0.24,0.65),
           (-0.27,0.41),(-0.27,0.57),(-0.29,0.33),(-0.30,0.37),(-0.32,0.29),(-0.33,0.36),(-0.37,0.25),
           (-0.37,0.38),(-0.38,0.44),(-0.40,0.41)]
CO_ORANGE = [(-0.49,0.74),(-0.34,0.67),(-0.32,0.71),(-0.24,0.92),(-0.25,0.46),(-0.08,0.97),(-0.09,0.73),
             (-0.08,0.73),(-0.08,0.64),(-0.02,0.75),(0.00,0.89),(0.01,0.89),(0.01,0.79),(-0.01,0.62),
             (0.02,0.62),(0.04,0.95),(0.06,0.73),(0.10,0.97),(0.10,0.91),(0.10,0.84),(0.12,0.89),
             (0.13,0.97),(0.14,0.97),(0.14,0.93),(0.15,0.91),(0.16,0.92),(0.17,0.70),(0.21,0.98),
             (0.27,0.97),(0.28,0.69),(0.39,0.77),(0.40,0.88),(0.41,0.84),(-0.06,0.50),(0.15,0.51)]
CO_HYP = [(-0.78,1.07),(-0.72,0.81),(-0.68,0.62),(-0.77,0.36),(-0.74,0.26),(-0.70,0.29),(-0.67,0.33),
          (-0.83,0.22),(-0.81,0.22),(-0.64,0.24),(-0.62,0.39),(-0.61,0.32),(-0.61,0.27),(-0.58,0.52),
          (-0.58,0.37),(-0.55,0.19),(-0.54,0.22),(-0.52,0.58),(-0.50,0.40),(-0.50,0.47),(-0.48,0.54),
          (-0.46,0.31),(-0.44,0.53),(-0.43,0.43),(-0.42,0.58),(-0.40,0.66),(-0.39,0.31),(-0.37,0.38),
          (-0.35,0.61),(-0.33,0.66),(-0.34,0.47),(-0.34,1.10),(-0.32,0.54),(-0.31,0.45),(-0.30,0.68),
          (-0.29,0.49),(-0.27,0.15),(-0.25,0.59),(-0.23,0.50),(-0.21,0.24),(-0.19,0.36),(-0.18,0.46),
          (-0.16,0.41),(-0.16,0.30),(-0.14,0.27),(-0.12,0.21),(-0.12,0.96),(-0.10,0.45),(-0.10,0.61),
          (-0.08,0.26),(-0.07,0.12),(-0.06,0.67),(-0.04,0.50),(-0.03,0.43),(-0.02,0.05),(-0.01,0.85),
          (0.00,0.78),(0.02,0.38),(0.03,0.12),(0.04,0.76),(0.05,0.84),(0.06,0.22),(0.07,0.36),(0.08,0.13),
          (0.09,0.44),(0.10,0.51),(0.11,0.27),(0.12,0.58),(0.13,0.61),(0.14,0.38),(0.16,0.47),(0.18,0.64),
          (0.20,0.41),(0.20,1.91),(0.21,0.20),(0.22,0.38),(0.24,0.31),(0.25,0.69),(0.27,0.55),(0.29,0.34),
          (0.30,0.54),(0.32,0.51),(0.35,1.11),(0.36,0.48),(0.38,0.69),(0.39,0.43),(0.41,0.14),(0.44,0.51),
          (0.27,0.24),(0.31,0.22),
          (-0.45,0.30),(-0.42,0.35),(-0.40,0.25),(-0.38,0.32),(-0.36,0.28),(-0.35,0.40),(-0.33,0.22),
          (-0.31,0.30),(-0.30,0.42),(-0.28,0.25),(-0.26,0.35),(-0.25,0.20),(-0.24,0.30),(-0.22,0.40),
          (-0.20,0.30),(-0.19,0.22),(-0.17,0.33),(-0.15,0.25),(-0.14,0.35),(-0.12,0.30),(-0.11,0.18),
          (-0.09,0.35),(-0.08,0.40),(-0.06,0.28),(-0.05,0.35),(-0.03,0.25),(-0.02,0.32),(0.00,0.20),
          (0.02,0.30),(0.04,0.22),(0.06,0.33),(0.08,0.26),(0.10,0.30),(0.12,0.20),(0.14,0.28),
          (0.17,0.32),(0.20,0.35),(0.23,0.40),(-0.47,0.20),(-0.50,0.30),(-0.52,0.16)]
CO_HYP_EXTRA = [(-0.44,0.38),(-0.41,0.28),(-0.39,0.36),(-0.37,0.22),(-0.35,0.33),(-0.33,0.27),(-0.31,0.36),
                (-0.29,0.28),(-0.27,0.32),(-0.25,0.38),(-0.23,0.27),(-0.21,0.33),(-0.20,0.44),(-0.18,0.28),
                (-0.16,0.36),(-0.13,0.24),(-0.11,0.40),(-0.09,0.28),(-0.07,0.33),(-0.05,0.22),(-0.04,0.40),
                (-0.02,0.27),(0.00,0.36),(0.01,0.26),(0.03,0.34),(0.05,0.28),(0.07,0.24),(0.09,0.34),
                (0.11,0.37),(0.13,0.25),(0.15,0.34),(0.18,0.26),(0.21,0.42),(0.25,0.45),(0.30,0.40),
                (0.33,0.48),(0.10,0.55),(0.05,0.52),(-0.02,0.55),(-0.08,0.50)]

# ---------------- C/S ----------------
CS_BLUE = [(0.16,30.1),(0.23,27.5),(0.33,27.2),(0.32,24.0),(0.32,23.4),(0.17,25.6),(0.39,22.7),(0.42,19.2),
           (0.44,20.5),(0.46,21.2),(0.43,16.9),(0.39,20.7),(0.39,20.3),(0.38,20.2),(0.36,18.5),(0.36,15.4),
           (0.33,17.9),(0.33,16.9),(0.33,15.6),(0.33,14.1),(0.32,21.5),(0.32,20.0),(0.32,18.0),(0.39,14.6),
           (0.28,20.7),(0.28,16.0),(0.27,11.4),(0.25,22.7),(0.24,20.5),(0.26,18.8),(0.22,19.4),(0.21,17.1),
           (0.20,15.8),(0.20,14.2),(0.19,19.8),(0.19,18.6),(0.19,16.4),(0.18,21.7),(0.17,18.4),(0.17,16.4),
           (0.17,14.1),(0.17,8.4),(0.15,20.7),(0.14,18.1),(0.14,16.4),(0.14,14.5),(0.14,23.6),(0.14,10.4),
           (0.12,22.8),(0.12,20.2),(0.12,18.5),(0.12,16.5),(0.11,14.8),(0.11,13.2),(0.10,20.2),(0.10,18.8),
           (0.10,17.1),(0.09,15.6),(0.09,13.3),(0.09,7.2),(0.08,23.2),(0.08,22.1),(0.07,19.8),(0.07,17.5),
           (0.07,16.4),(0.08,10.3),(0.06,20.5),(0.05,19.2),(0.05,17.1),(0.05,15.1),(0.05,13.3),(0.05,12.2),
           (0.04,10.3),(0.03,18.6),(0.03,17.1),(0.02,14.6),(0.01,20.5),(0.00,21.7),(0.01,17.1),(0.01,15.2),
           (0.01,13.9),(-0.01,25.1),(-0.01,16.4),(-0.02,14.2),(-0.02,14.8),(0.00,9.3),(-0.03,9.5),
           (-0.04,20.9),(-0.05,19.6),(-0.06,17.9),(-0.05,23.6),(-0.06,14.8),(-0.06,12.7),(-0.06,9.4),
           (-0.07,11.4),(-0.07,22.8),(-0.07,21.3),(-0.08,22.5),(-0.08,13.7),(-0.10,18.1),(-0.09,15.8),
           (-0.10,16.7),(-0.10,12.8),(-0.12,10.1),(-0.12,8.5),(-0.12,16.5),(-0.12,15.4),(-0.14,16.7),
           (-0.14,18.3),(-0.16,15.6),(-0.16,22.5),(-0.16,19.6),(-0.17,9.4),(-0.18,16.7),(-0.19,19.0),
           (-0.21,20.5),(-0.21,7.2),(-0.23,23.4),(-0.24,28.5),(-0.25,16.5),(-0.27,12.9),(-0.27,19.0),
           (-0.29,17.5),(-0.29,11.9),(-0.30,16.4),(-0.32,12.9),(-0.33,17.0),(-0.34,19.4),(-0.37,5.5),
           (-0.37,15.6),(-0.39,7.5),(-0.40,18.6),(-0.44,12.7)]
CS_ORANGE = [(-0.49,13.1),(-0.38,13.2),(0.22,25.5),(0.19,25.5),(0.32,25.7),(0.34,22.1),(0.16,22.7),
             (0.14,21.2),(0.21,21.2),(0.27,18.4),(0.28,15.1),(0.28,11.8),(0.32,19.8),(0.39,17.7),
             (0.40,21.2),(0.46,17.9),(0.35,11.0),(0.41,9.2),(0.14,11.9),(0.15,9.0),(0.07,6.3),(0.00,11.4),
             (-0.08,10.3),(-0.08,18.1),(0.09,13.3),(0.10,13.7),(0.12,12.6),(0.15,13.3),(0.06,20.2),
             (0.04,20.9),(0.12,14.5),(-0.18,19.6)]
CS_HYP = [(-0.78,44.7),(0.11,43.8),(0.09,41.9),(-0.13,40.0),(-0.13,37.3),(0.00,36.3),(-0.12,33.1),
          (-0.52,31.7),(-0.51,28.9),(-0.43,28.9),(-0.09,31.0),(-0.15,30.2),(-0.02,29.7),(0.01,29.3),
          (0.03,28.9),(-0.58,21.9),(-0.83,18.3),(-0.68,17.9),(-0.49,17.9),(-0.58,13.9),(-0.60,14.8),
          (-0.81,9.1),(-0.74,8.8),(-0.70,2.3),(-0.64,8.0),(-0.62,5.3),(-0.60,11.0),(-0.61,4.2),(-0.59,2.7),
          (-0.55,1.9),(-0.54,6.5),(-0.49,3.0),(-0.48,5.7),(-0.51,4.2),(-0.43,2.7),(-0.42,1.1),(-0.41,3.0),
          (-0.38,1.9),(-0.36,3.4),(-0.34,2.3),(-0.32,1.1),(-0.30,3.4),(-0.28,4.6),(-0.25,2.7),(-0.23,1.5),
          (-0.21,4.2),(-0.19,2.7),(-0.16,3.0),(-0.15,1.1),(-0.12,4.2),(-0.10,2.7),(-0.08,5.7),(-0.07,1.1),
          (-0.04,3.4),(-0.03,4.9),(-0.01,2.3),(0.01,3.4),(0.03,1.5),(0.05,4.6),(0.07,2.7),(0.09,1.1),
          (0.11,3.8),(0.14,2.7),(0.16,4.9),(0.18,1.9),(0.20,3.4),(0.23,2.3),(0.25,4.2),(0.28,1.5),
          (0.32,4.6),(0.36,3.4),(0.39,2.3),(-0.30,24.0),(-0.28,23.2),(-0.23,22.1),(-0.20,24.7),
          (-0.17,23.6),(-0.14,21.7),(-0.12,22.5),(-0.08,20.2),(-0.04,17.9),(-0.01,26.6),(0.01,22.1),
          (0.03,25.5),(0.08,24.7),(-0.37,20.9),(-0.36,24.0),(-0.43,14.8),(-0.37,10.3),(-0.30,7.2),
          (-0.23,10.3),(-0.17,13.3),(-0.04,8.8),(0.21,7.2),(0.32,12.6),(0.34,6.5),(0.42,4.2),
          (-0.40,5.0),(-0.33,6.0),(-0.27,5.5),(-0.20,6.5),(-0.13,6.8),(-0.06,6.2),(0.00,5.8),(0.04,7.0),
          (0.10,6.0),(0.13,5.3),(0.19,6.1),(0.24,5.5),(-0.35,1.0),(-0.18,0.8),(-0.02,0.7),(0.12,0.9),
          (0.27,0.8),(-0.44,7.5),(-0.26,8.5),(0.06,8.5)]
CS_HYP_EXTRA = [(-0.39,4.0),(-0.37,2.5),(-0.35,5.2),(-0.33,3.8),(-0.31,2.0),(-0.29,5.8),(-0.27,3.2),
                (-0.25,1.5),(-0.24,4.8),(-0.22,3.0),(-0.20,1.8),(-0.18,4.5),(-0.16,2.2),(-0.14,5.5),
                (-0.13,3.5),(-0.11,1.6),(-0.09,4.2),(-0.08,2.5),(-0.06,5.0),(-0.05,1.8),(-0.03,3.6),
                (-0.02,6.0),(0.00,2.8),(0.02,4.8),(0.03,2.0),(0.05,6.5),(0.06,3.5),(0.08,5.0),(0.10,2.2),
                (0.12,4.4),(0.13,7.0),(0.15,3.2),(0.17,5.6),(0.19,2.5),(0.21,4.8),(0.22,1.5),(0.24,3.0),
                (0.26,5.5),(0.27,2.8),(0.30,3.8),(0.34,2.0),(0.37,3.0)]

# ---------------- O/S ----------------
OS_BLUE = [(0.16,99.6),(-0.17,93.6),(0.10,78.3),(-0.06,73.1),(-0.16,70.9),(0.05,73.1),(0.05,70.1),(0.09,66.6),
           (-0.02,66.6),(0.32,67.4),(0.33,64.7),(0.26,63.3),(0.08,61.9),(0.04,58.6),(0.04,55.9),(0.00,57.3),
           (-0.04,53.2),(-0.04,49.6),(0.12,57.3),(0.15,54.5),(0.20,55.1),(0.22,55.1),(0.23,54.5),(0.22,49.6),
           (0.38,53.2),(0.41,53.2),(-0.37,64.7),(-0.23,66.3),(-0.25,59.2),(-0.29,52.3),(-0.21,51.8),
           (-0.33,48.5),(-0.27,47.7),(-0.40,46.9),(-0.32,45.5),(-0.30,44.4),(-0.24,44.4),(-0.16,45.0),
           (-0.18,41.4),(-0.13,50.4),(-0.12,48.2),(-0.10,45.5),(-0.13,40.9),(-0.11,39.5),(-0.09,45.5),
           (-0.14,35.9),(-0.19,35.9),(-0.21,29.1),(-0.10,28.6),(-0.09,29.4),(-0.07,49.1),(-0.07,40.9),
           (-0.07,22.5),(-0.06,28.6),(-0.06,16.2),(-0.03,34.8),(-0.03,32.7),(-0.02,45.0),(-0.02,39.5),
           (-0.02,28.6),(-0.02,25.8),(-0.01,50.4),(-0.01,42.2),(0.01,35.4),(0.02,38.9),(0.02,45.0),
           (0.03,49.1),(0.04,43.6),(0.04,36.8),(0.05,31.3),(0.05,24.5),(0.06,42.2),(0.07,46.3),(0.07,38.1),
           (0.09,50.4),(0.09,40.9),(0.09,34.0),(0.10,25.8),(0.11,42.2),(0.12,36.8),(0.13,49.1),(0.13,43.6),
           (0.14,39.5),(0.15,32.7),(0.15,45.0),(0.16,40.9),(0.17,36.8),(0.17,27.2),(0.19,45.0),(0.19,42.2),
           (0.20,21.7),(0.20,28.6),(0.22,32.7),(0.23,34.0),(0.24,38.1),(0.24,26.4),(0.28,33.2),(0.28,26.4),
           (0.32,38.7),(0.32,24.5),(0.32,20.9),(0.33,46.3),(0.33,40.9),(0.33,35.9),(0.33,32.7),(0.33,28.6),
           (0.36,35.9),(0.36,21.7),(0.39,27.7),(0.39,23.9),(0.43,23.1),(0.46,23.1),(0.44,33.2),(-0.27,23.9),
           (-0.37,15.4)]
OS_ORANGE = [(-0.72,16.2),(-0.49,18.4),(-0.38,30.5),(-0.18,36.8),(-0.08,22.5),(-0.09,17.6),(-0.02,21.7),
             (0.00,23.9),(0.02,23.9),(0.04,16.8),(0.07,29.9),(0.08,27.2),(0.07,21.7),(0.07,16.2),(0.10,17.6),
             (0.13,17.6),(0.14,13.0),(0.15,19.0),(0.17,17.6),(0.22,22.5),(0.27,19.5),(0.28,18.4),(0.28,14.1),
             (0.34,27.2),(0.40,25.3),(0.41,11.9),(0.46,38.1)]
OS_HYP = [(0.11,162.5),(0.09,144.8),(-0.27,135.2),(-0.18,128.9),(-0.12,115.2),(-0.12,102.9),(-0.09,102.9),
          (-0.13,91.4),(-0.11,89.5),(0.09,96.1),(-0.43,96.1),(-0.34,87.3),(-0.83,81.9),(-0.52,78.3),
          (-0.18,76.4),(0.00,83.8),(0.14,73.1),(-0.40,71.5),(-0.37,71.5),(-0.51,59.7),(-0.46,58.1),
          (-0.68,51.0),(-0.81,41.7),(-0.78,42.8),(-0.74,34.0),(-0.64,34.0),(-0.62,43.6),(-0.58,43.6),
          (-0.61,37.6),(-0.58,38.7),(-0.54,34.8),(-0.52,36.2),(-0.49,38.1),(-0.62,27.2),(-0.59,18.2),
          (-0.70,8.9),(-0.62,15.4),(-0.61,13.5),(-0.55,14.9),(-0.50,20.4),(-0.50,28.6),(-0.49,13.0),
          (-0.44,10.8),(-0.40,6.7),(-0.39,13.5),(-0.36,19.0),(-0.32,14.9),(-0.31,9.4),(-0.28,17.6),
          (-0.25,6.7),(-0.23,13.5),(-0.20,19.0),(-0.17,9.4),(-0.15,14.9),(-0.12,6.7),(-0.10,19.0),
          (-0.07,10.8),(-0.04,16.2),(-0.02,8.0),(0.01,19.0),(0.04,12.1),(0.06,6.7),(0.09,16.2),(0.11,9.4),
          (0.14,19.0),(0.17,12.1),(0.19,6.7),(0.22,16.2),(0.26,10.8),(0.30,14.9),(0.34,9.4),(0.39,16.2),
          (0.44,19.0),(-0.33,62.7),(-0.31,54.5),(-0.25,64.1),(-0.23,58.6),(-0.20,62.7),(-0.18,51.8),
          (-0.14,57.3),(-0.10,51.8),(-0.04,60.0),(-0.02,65.5),(0.04,60.0),(0.09,65.5),(0.14,54.5),
          (0.19,58.6),(0.23,62.7),(0.28,54.5),(0.35,46.3),(0.40,40.9),(-0.35,38.1),(-0.31,32.7),
          (-0.23,38.1),(0.06,38.1),(0.25,43.6),(0.15,68.2),(0.34,54.5),(-0.42,22.0),(-0.34,26.0),
          (-0.26,24.0),(-0.19,27.0),(-0.13,22.0),(-0.05,25.0),(0.02,28.0),(0.08,22.0),(0.16,24.5),
          (0.24,21.0),(0.31,25.0),(-0.45,30.0),(-0.21,8.0),(-0.09,12.0),(0.00,14.0),(0.12,13.5),
          (0.25,8.0),(-0.35,8.5)]
OS_HYP_EXTRA = [(-0.43,14.0),(-0.41,20.0),(-0.38,9.0),(-0.36,12.0),(-0.34,17.0),(-0.33,11.0),(-0.30,20.0),
                (-0.29,13.0),(-0.27,9.0),(-0.26,18.0),(-0.24,11.0),(-0.22,22.0),(-0.21,15.0),(-0.19,11.0),
                (-0.18,24.0),(-0.16,17.0),(-0.14,11.0),(-0.13,20.0),(-0.11,14.0),(-0.09,8.0),(-0.08,24.0),
                (-0.06,12.0),(-0.05,20.0),(-0.03,9.0),(-0.01,14.0),(0.00,22.0),(0.03,9.0),(0.05,19.0),
                (0.07,12.0),(0.08,8.0),(0.10,20.0),(0.12,16.0),(0.13,9.0),(0.15,14.0),(0.16,21.0),
                (0.18,10.0),(0.20,15.0),(0.21,9.0),(0.23,19.0),(0.27,14.0),(0.29,9.0),(0.31,18.0),
                (0.33,12.0),(0.37,8.0),(0.41,20.0),(-0.15,30.0),(-0.07,33.0),(0.05,30.0),(0.12,27.0),
                (-0.28,32.0),(0.20,35.0),(0.35,30.0)]

# ---------------- [alpha/Fe] ----------------
HIGH_ALPHA = [(-0.37,0.40),(-0.37,0.26),(-0.32,0.39),(-0.21,0.37),(-0.29,0.16),(-0.25,0.15),(-0.19,0.18),
              (-0.17,0.27),(-0.13,0.26),(-0.16,0.12),(-0.12,0.11),(-0.09,0.10),(-0.08,0.12),(-0.06,0.14),
              (-0.06,0.13),(-0.03,0.19),(-0.02,0.19),(-0.02,0.15),(-0.02,0.14),(0.00,0.20),(0.04,0.07),
              (0.05,0.17),(0.05,0.14),(0.05,0.13),(0.07,0.13),(0.08,0.13),(0.09,0.22),(0.10,0.13),
              (0.10,0.09),(0.14,0.14),(0.21,0.12),(0.26,0.08)]
LOW_ALPHA = [(-0.40,0.11),(-0.33,0.12),(-0.30,0.12),(-0.27,0.08),(-0.27,0.02),(-0.24,-0.11),(-0.23,0.05),
             (-0.21,0.07),(-0.18,-0.02),(-0.16,0.10),(-0.14,0.01),(-0.13,0.05),(-0.12,0.07),(-0.11,-0.01),
             (-0.10,0.00),(-0.10,-0.02),(-0.09,0.06),(-0.07,0.06),(-0.06,0.06),(-0.07,0.02),(-0.06,0.00),
             (-0.06,-0.09),(-0.04,-0.01),(-0.03,0.00),(-0.04,-0.06),(-0.03,-0.05),(-0.03,0.05),(-0.02,0.04),
             (-0.02,-0.12),(-0.01,-0.12),(-0.01,-0.02),(-0.01,0.01),(0.00,-0.09),(0.01,0.07),(0.01,0.03),
             (0.01,0.01),(0.02,0.01),(0.03,-0.07),(0.04,-0.01),(0.05,0.05),(0.05,0.02),(0.05,-0.07),
             (0.06,-0.01),(0.07,-0.06),(0.08,-0.06),(0.08,-0.03),(0.08,0.01),(0.09,0.05),(0.09,-0.02),
             (0.10,0.00),(0.10,-0.09),(0.10,-0.16),(0.11,0.02),(0.12,-0.03),(0.12,-0.06),(0.12,-0.07),
             (0.12,-0.09),(0.12,-0.15),(0.12,-0.16),(0.13,0.04),(0.13,0.00),(0.14,0.04),(0.14,-0.03),
             (0.13,-0.12),(0.14,-0.16),(0.15,0.00),(0.15,-0.05),(0.15,-0.12),(0.16,-0.02),(0.16,-0.08),
             (0.17,-0.04),(0.17,-0.22),(0.18,0.00),(0.18,-0.02),(0.19,0.03),(0.20,0.06),(0.20,-0.03),
             (0.20,-0.07),(0.21,-0.14),(0.22,0.02),(0.22,-0.02),(0.22,-0.14),(0.23,-0.07),(0.23,-0.08),
             (0.23,-0.11),(0.23,-0.17),(0.24,-0.11),(0.24,-0.14),(0.24,-0.16),(0.28,-0.14),(0.32,-0.01),
             (0.32,-0.04),(0.32,-0.19),(0.32,-0.22),(0.32,-0.24),(0.32,-0.12),(0.33,-0.02),(0.33,-0.03),
             (0.33,-0.07),(0.33,-0.09),(0.33,-0.13),(0.36,-0.09),(0.36,-0.10),(0.38,-0.03),(0.39,-0.17),
             (0.39,-0.21),(0.41,-0.02),(0.43,-0.20),(0.44,-0.15),(0.46,-0.30)]
DIVIDE_X = [-0.65, -0.60, 0.04, 0.55]
DIVIDE_Y = [0.19, 0.19, 0.071, 0.071]

# error crosses: (x, y, xerr, yerr)
ERR = {"C": (-0.95, -0.40, 0.019, 0.036), "O": (-0.95, -0.40, 0.019, 0.034),
       "S": (-0.95, -0.40, 0.021, 0.055), "Ni": (-0.95, -0.40, 0.019, 0.02),
       "C/O": (-0.945, 0.155, 0.023, 0.063), "C/S": (-0.952, 4.2, 0.02, 2.9),
       "O/S": (-0.95, 15.4, 0.022, 5.3)}


def xy(pts):
    return [p[0] for p in pts], [p[1] for p in pts]


def fmt(dec, hide=()):
    def f(v, pos):
        if any(abs(v - h) < 1e-6 for h in hide):
            return ""
        s = f"{v:.{dec}f}"
        if s.startswith("-0") and float(s) == 0:
            s = s[1:]
        return f"${s}$"
    return FuncFormatter(f)


def style(ax, size):
    ax.tick_params(which="both", direction="in", top=True, right=True, labelsize=size,
                   width=0.8, colors="#222222")
    ax.tick_params(which="major", length=4.5)
    ax.tick_params(which="minor", length=2.2)
    for s in ax.spines.values():
        s.set_linewidth(1.0)
        s.set_color("#222222")


def sample(ax, hyp, orange, blue, err, ambre=None, s_big=28, s_hyp=18):
    ax.scatter(*xy(hyp), s=s_hyp, c=GREY, lw=0, zorder=1)
    if ambre:
        ax.scatter(*xy(ambre), s=9, c=AMBRE_C, lw=0, zorder=2)
    if orange:
        ax.scatter(*xy(orange), s=s_big, c=ORANGE, lw=0, zorder=3)
    ax.scatter(*xy(blue), s=s_big, c=BLUE_FACE, edgecolors=BLUE_EDGE, lw=0.8, zorder=4)
    x, y, xe, ye = err
    ax.errorbar([x], [y], xerr=[xe], yerr=[ye], fmt="none", ecolor=CROSS, elinewidth=1.4,
                capsize=0, zorder=5)


W, H = 1031, 1153
fig = plt.figure(figsize=(W / 100, H / 100), dpi=100)


def box(x0, y0, x1, y1):
    return [x0 / W, 1 - y1 / H, (x1 - x0) / W, (y1 - y0) / H]


ax_c = fig.add_axes(box(66, 50, 540, 293.5))
ax_o = fig.add_axes(box(540, 50, 1013, 293.5))
ax_s = fig.add_axes(box(66, 293.5, 540, 537))
ax_ni = fig.add_axes(box(540, 293.5, 1013, 537))

sample(ax_c, C_HYP + C_HYP_EXTRA, C_ORANGE, C_BLUE, ERR["C"])
sample(ax_o, O_HYP + O_HYP_EXTRA, O_ORANGE, O_BLUE, ERR["O"])
sample(ax_s, S_HYP + S_HYP_EXTRA, S_ORANGE, S_BLUE, ERR["S"], ambre=S_AMBRE + S_AMBRE_EXTRA)
sample(ax_ni, NI_HYP + NI_HYP_EXTRA, None, NI_BLUE, ERR["Ni"])

grid = {ax_c: "C", ax_o: "O", ax_s: "S", ax_ni: "Ni"}
for ax, name in grid.items():
    ax.set_xlim(-1.0, 0.6)
    ax.set_ylim(-0.5, 1.0)
    style(ax, 11)
    ax.xaxis.set_major_locator(MultipleLocator(0.2))
    ax.xaxis.set_minor_locator(MultipleLocator(0.05))
    ax.yaxis.set_major_locator(MultipleLocator(0.25))
    ax.yaxis.set_minor_locator(MultipleLocator(0.05))
    ax.text(0.04, 0.89, name, transform=ax.transAxes, fontsize=11.5, color="#222222")

ax_c.xaxis.set_major_formatter(FuncFormatter(lambda v, p: ""))
ax_o.xaxis.set_major_formatter(FuncFormatter(lambda v, p: ""))
ax_o.yaxis.set_major_formatter(FuncFormatter(lambda v, p: ""))
ax_ni.yaxis.set_major_formatter(FuncFormatter(lambda v, p: ""))
ax_c.yaxis.set_major_formatter(fmt(2, hide=(-0.5,)))
ax_s.yaxis.set_major_formatter(fmt(2, hide=(1.0,)))
ax_s.xaxis.set_major_formatter(fmt(1, hide=(0.6,)))
ax_ni.xaxis.set_major_formatter(fmt(1, hide=(-1.0,)))

handles = [
    Line2D([], [], ls="none", marker="o", ms=6, mfc=BLUE_FACE, mec=BLUE_EDGE, mew=0.8),
    Line2D([], [], ls="none", marker="o", ms=6, mfc=ORANGE, mec=ORANGE, mew=0),
    Line2D([], [], ls="none", marker="o", ms=4.5, mfc=GREY, mec=GREY, mew=0),
    Line2D([], [], ls="none", marker="o", ms=3.5, mfc=AMBRE_C, mec=AMBRE_C, mew=0),
]
labels = [r"$T_{\rm eff} \geq T_{\rm lim}$", r"$T_{\rm eff} < T_{\rm lim}$",
          "Hypatia catalog", "AMBRE project"]
ax_c.legend(handles, labels, loc="upper right", frameon=False, fontsize=10,
            handletextpad=1.2, labelspacing=0.45, borderaxespad=0.4)

fig.text(14 / W, 1 - 296 / H, "[X/Fe]", rotation=90, ha="center", va="center", fontsize=12)
fig.text(548 / W, 1 - 566 / H, "[Fe/H]", ha="center", va="center", fontsize=12)

# ratio panels
ax_co = fig.add_axes(box(91, 588, 494, 826))
ax_cs = fig.add_axes(box(554, 583, 966, 825))
ax_os = fig.add_axes(box(87, 869, 493, 1106))
ax_al = fig.add_axes(box(568, 865, 975, 1106))

sample(ax_co, CO_HYP + CO_HYP_EXTRA, CO_ORANGE, CO_BLUE, ERR["C/O"], s_big=25, s_hyp=15)
sample(ax_cs, CS_HYP + CS_HYP_EXTRA, CS_ORANGE, CS_BLUE, ERR["C/S"], s_big=25, s_hyp=15)
sample(ax_os, OS_HYP + OS_HYP_EXTRA, OS_ORANGE, OS_BLUE, ERR["O/S"], s_big=25, s_hyp=15)

ratio = [(ax_co, "C/O", (0, 2.0), 0.25, 0.05, 2), (ax_cs, "C/S", (0, 55), 10, 2, 0),
         (ax_os, "O/S", (6, 200), 25, 5, 0)]
for ax, lab, lim, maj, mnr, dec in ratio:
    ax.set_xlim(-1.0, 0.6)
    ax.set_ylim(*lim)
    style(ax, 9)
    ax.xaxis.set_major_locator(MultipleLocator(0.2))
    ax.xaxis.set_minor_locator(MultipleLocator(0.05))
    ax.yaxis.set_major_locator(MultipleLocator(maj))
    ax.yaxis.set_minor_locator(MultipleLocator(mnr))
    ax.xaxis.set_major_formatter(fmt(1))
    ax.yaxis.set_major_formatter(fmt(dec))
    ax.set_xlabel("[Fe/H]", fontsize=10, labelpad=2)
    ax.set_ylabel(lab, fontsize=10, labelpad=6)
ax_cs.tick_params(axis="y", pad=6)

# alpha panel
ax_al.scatter(*xy(HIGH_ALPHA), s=20, c="#d62728", lw=0, zorder=3, label=r"high-[$\alpha$/Fe]")
ax_al.scatter(*xy(LOW_ALPHA), s=20, c="black", lw=0, zorder=3, label=r"low-[$\alpha$/Fe]")
ax_al.plot(DIVIDE_X, DIVIDE_Y, color="black", ls=(0, (3, 1.5)), lw=0.8, zorder=2)
ax_al.set_xlim(-0.65, 0.55)
ax_al.set_ylim(-0.35, 0.5)
style(ax_al, 9)
ax_al.xaxis.set_major_locator(MultipleLocator(0.2))
ax_al.xaxis.set_minor_locator(MultipleLocator(0.05))
ax_al.yaxis.set_major_locator(FixedLocator([-0.2, 0.0, 0.2, 0.4]))
ax_al.yaxis.set_minor_locator(MultipleLocator(0.05))
ax_al.xaxis.set_major_formatter(fmt(1))
ax_al.yaxis.set_major_formatter(fmt(1))
ax_al.set_xlabel("[Fe/H]", fontsize=10, labelpad=2)
ax_al.set_ylabel(r"[$\alpha$/Fe]", fontsize=10, labelpad=6)
ax_al.legend(loc="upper right", frameon=False, fontsize=9, handletextpad=1.0,
             labelspacing=0.5, markerscale=1.0)

fig.text(1019 / W, 1 - 14 / H, r"$\mathbf{15}$", ha="right", va="center", fontsize=12)

fig.savefig("out.png", dpi=100)
